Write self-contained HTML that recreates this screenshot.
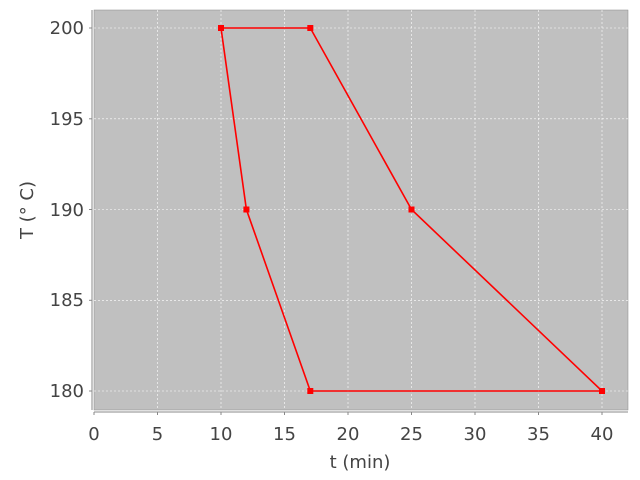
<!DOCTYPE html>
<html><head><style>body{margin:0;background:#fff}svg{display:block}</style></head><body>
<svg width="640" height="480" xmlns="http://www.w3.org/2000/svg" font-family="DejaVu Sans, Liberation Sans, sans-serif">
<rect x="94" y="10" width="534" height="400" fill="#c0c0c0" stroke="#888" stroke-width="0.5"/>
<g stroke="#fff" stroke-width="0.6" stroke-dasharray="2,2">
<line x1="157.5" y1="10" x2="157.5" y2="410"/><line x1="221" y1="10" x2="221" y2="410"/><line x1="284.5" y1="10" x2="284.5" y2="410"/><line x1="348" y1="10" x2="348" y2="410"/><line x1="411.5" y1="10" x2="411.5" y2="410"/><line x1="475" y1="10" x2="475" y2="410"/><line x1="538.5" y1="10" x2="538.5" y2="410"/><line x1="602" y1="10" x2="602" y2="410"/>
<line x1="94" y1="28" x2="628" y2="28"/><line x1="94" y1="118.8" x2="628" y2="118.8"/><line x1="94" y1="209.5" x2="628" y2="209.5"/><line x1="94" y1="300.3" x2="628" y2="300.3"/><line x1="94" y1="391" x2="628" y2="391"/>
</g>
<g stroke="#888" stroke-width="1">
<line x1="94" y1="412" x2="628" y2="412"/><line x1="92" y1="10" x2="92" y2="410"/>
<g>
<line x1="94" y1="412" x2="94" y2="415"/><line x1="157.5" y1="412" x2="157.5" y2="415"/><line x1="221" y1="412" x2="221" y2="415"/><line x1="284.5" y1="412" x2="284.5" y2="415"/><line x1="348" y1="412" x2="348" y2="415"/><line x1="411.5" y1="412" x2="411.5" y2="415"/><line x1="475" y1="412" x2="475" y2="415"/><line x1="538.5" y1="412" x2="538.5" y2="415"/><line x1="602" y1="412" x2="602" y2="415"/>
<line x1="89" y1="28" x2="92" y2="28"/><line x1="89" y1="118.8" x2="92" y2="118.8"/><line x1="89" y1="209.5" x2="92" y2="209.5"/><line x1="89" y1="300.3" x2="92" y2="300.3"/><line x1="89" y1="391" x2="92" y2="391"/>
</g></g>
<g font-size="18" fill="#444" text-anchor="middle">
<text x="94" y="440">0</text><text x="157.5" y="440">5</text><text x="221" y="440">10</text><text x="284.5" y="440">15</text><text x="348" y="440">20</text><text x="411.5" y="440">25</text><text x="475" y="440">30</text><text x="538.5" y="440">35</text><text x="602" y="440">40</text>
</g>
<g font-size="18" fill="#444" text-anchor="end">
<text x="84" y="34">200</text><text x="84" y="125">195</text><text x="84" y="216">190</text><text x="84" y="306">185</text><text x="84" y="397">180</text>
</g>
<text x="360" y="468" font-size="18" fill="#444" text-anchor="middle">t (min)</text>
<text transform="translate(33,210) rotate(-90)" font-size="18" fill="#444" text-anchor="middle">T (° C)</text>
<polygon points="221,28 310.3,28 411.5,209.5 602,391 310.3,391 246.4,209.5" fill="none" stroke="#f00" stroke-width="1.6"/>
<g fill="#f00">
<rect x="218" y="25" width="6" height="6"/><rect x="307.3" y="25" width="6" height="6"/><rect x="408.5" y="206.5" width="6" height="6"/><rect x="599" y="388" width="6" height="6"/><rect x="307.3" y="388" width="6" height="6"/><rect x="243.4" y="206.5" width="6" height="6"/>
</g>
</svg>
</body></html>
